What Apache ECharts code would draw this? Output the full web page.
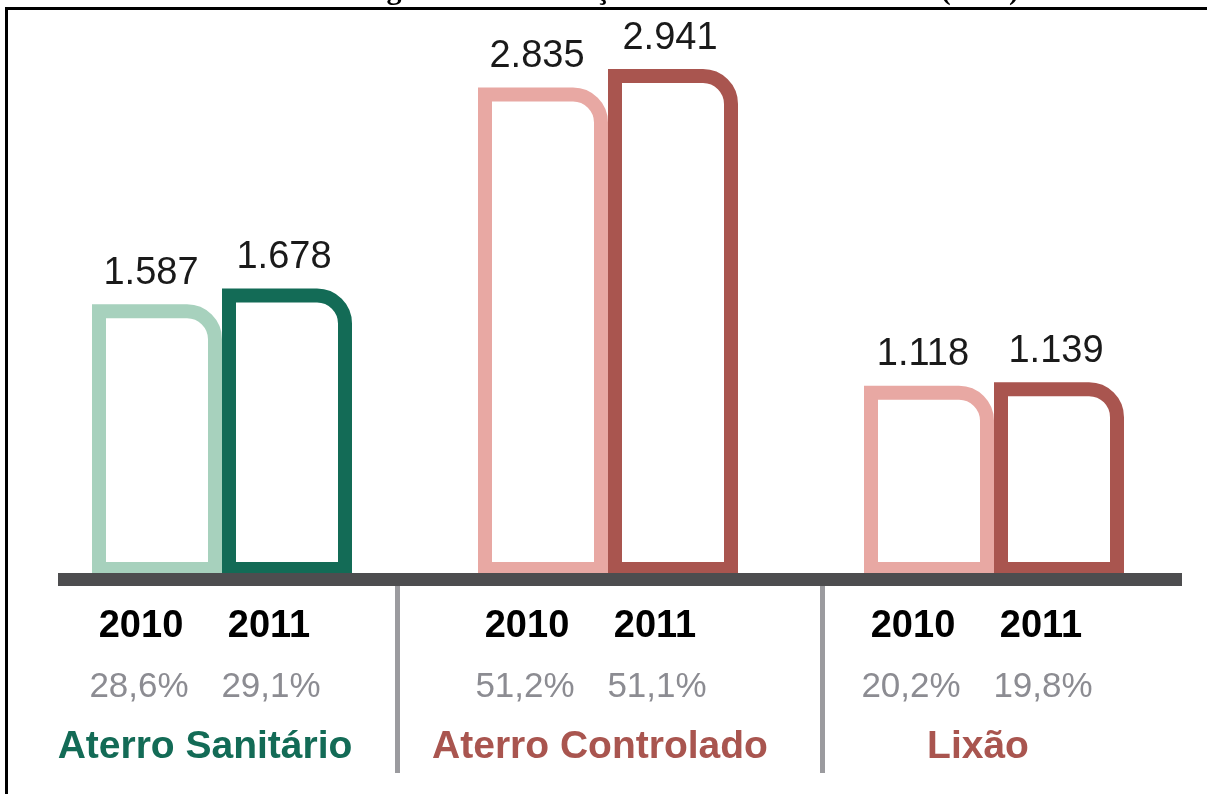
<!DOCTYPE html>
<html>
<head>
<meta charset="utf-8">
<script src="https://cdn.jsdelivr.net/npm/echarts@6/dist/echarts.min.js"></script>
<style>
  html, body { margin: 0; padding: 0; background: #fff; }
  #chart { width: 1207px; height: 794px; }
</style>
</head>
<body>
<div id="chart"></div>
<script>
const categories = ['Aterro Sanitário', 'Aterro Controlado', 'Lixão']
const years = ['2010', '2011']
const values2010 = [1587, 2835, 1118]
const values2011 = [1678, 2941, 1139]
const share2010 = ['28,6%', '51,2%', '20,2%']
const share2011 = ['29,1%', '51,1%', '19,8%']

const lightColors = ['#a7d1bd', '#e8a8a3', '#e8a8a3']
const darkColors = ['#136b56', '#a9554f', '#a9554f']
const nameShift = [0, 18, 2]

const font = "'Liberation Sans', Arial, sans-serif"
const barW = 130
const lw = 14
const radius = 28

const chart = echarts.init(document.getElementById('chart'))

// barra só com contorno, canto superior direito arredondado
function outlineSeries(name, values, colors, side, dx) {
  return {
    name: name,
    type: 'custom',
    data: values.map((v, i) => [i, v]),
    encode: { x: 0, y: 1 },
    renderItem: (params, api) => {
      const i = api.value(0)
      const v = api.value(1)
      const top = api.coord([i, v])
      const base = api.coord([i, 0])
      const cx = top[0] + side * barW / 2
      const x0 = cx - barW / 2 + lw / 2
      const x1 = cx + barW / 2 - lw / 2
      const y0 = top[1] + lw / 2
      const y1 = base[1] - 11
      const d = 'M' + x0 + ' ' + y1 + ' L' + x0 + ' ' + y0 +
        ' L' + (x1 - radius) + ' ' + y0 +
        ' A' + radius + ' ' + radius + ' 0 0 1 ' + x1 + ' ' + (y0 + radius) +
        ' L' + x1 + ' ' + y1 + ' Z'
      return {
        type: 'group',
        children: [
          {
            type: 'path',
            shape: { pathData: d },
            style: { fill: '#ffffff', stroke: colors[params.dataIndex], lineWidth: lw, lineJoin: 'miter' }
          },
          {
            type: 'text',
            x: cx + dx,
            y: top[1] - 12,
            style: {
              text: (v / 1000).toFixed(3),
              font: '38px ' + font,
              fill: '#1a1a1a',
              align: 'center',
              verticalAlign: 'bottom'
            }
          }
        ]
      }
    }
  }
}

const rich = {
  y: { fontFamily: font, fontSize: 38, fontWeight: 'bold', color: '#000', width: 128, align: 'center', lineHeight: 60 },
  p: { fontFamily: font, fontSize: 35, color: '#8c8c92', width: 132, align: 'center', lineHeight: 60 }
}
categories.forEach((c, i) => {
  rich['n' + i] = {
    fontFamily: font, fontSize: 39, fontWeight: 'bold', color: darkColors[i],
    lineHeight: 60, padding: [0, 0, 0, nameShift[i]]
  }
})

chart.setOption({
  animation: false,
  backgroundColor: '#ffffff',
  grid: { left: 29, right: 20, top: 5, bottom: 214 },
  xAxis: {
    type: 'category',
    data: categories,
    axisLine: { show: false },
    axisTick: { show: false },
    axisLabel: {
      margin: 17,
      padding: [0, 34, 0, 0],
      rich: rich,
      formatter: (val, i) =>
        '{y|' + years[0] + '}{y|' + years[1] + '}\n' +
        '{p|' + share2010[i] + '}{p|' + share2011[i] + '}\n' +
        '{n' + i + '|' + val + '}'
    }
  },
  yAxis: { type: 'value', min: 0, max: 3310, show: false },
  series: [
    outlineSeries(years[0], values2010, lightColors, -1, -6),
    outlineSeries(years[1], values2011, darkColors, 1, -3)
  ],
  graphic: [
    // moldura da figura
    { type: 'rect', shape: { x: 5, y: 7, width: 1202, height: 3 }, style: { fill: '#000' }, z: 100 },
    { type: 'rect', shape: { x: 5, y: 7, width: 3, height: 787 }, style: { fill: '#000' }, z: 100 },
    // título cortado no topo
    {
      type: 'text', x: 1019, y: 6, z: 100,
      style: {
        text: 'Figura 3 – Destinação final de RSU no Brasil (t/dia)',
        font: "bold 30px 'Liberation Serif', 'Times New Roman', serif",
        fill: '#000', align: 'right', verticalAlign: 'bottom'
      }
    },
    // linha de base
    { type: 'rect', shape: { x: 58, y: 573, width: 1124, height: 13 }, style: { fill: '#4d4d4f' }, z: 100 },
    // separadores
    { type: 'rect', shape: { x: 395, y: 586, width: 5, height: 187 }, style: { fill: '#9b9b9f' }, z: 100 },
    { type: 'rect', shape: { x: 820, y: 586, width: 5, height: 187 }, style: { fill: '#9b9b9f' }, z: 100 }
  ]
})
</script>
</body>
</html>
